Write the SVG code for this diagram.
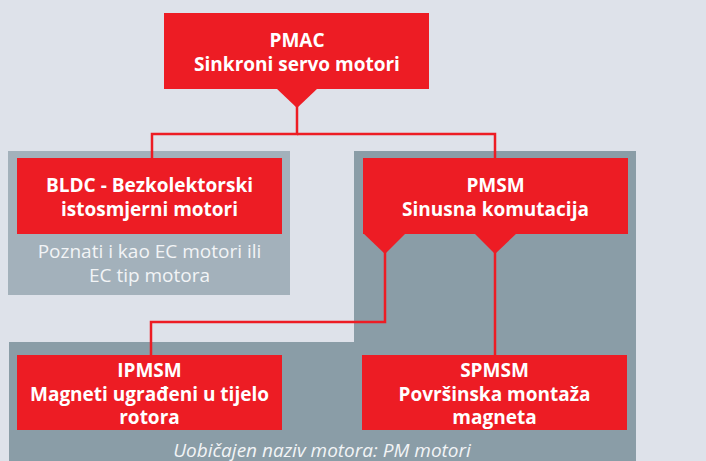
<svg xmlns="http://www.w3.org/2000/svg" width="706" height="461" viewBox="0 0 706 461">
<style>
.box{fill:#ed1c24}
.t{font-family:"Open Sans","Liberation Sans",sans-serif;font-weight:bold;font-size:19px;fill:#ffffff;text-anchor:middle}
.n{font-family:"Open Sans","Liberation Sans",sans-serif;font-size:19px;fill:#f2f4f6;text-anchor:middle}
.c{fill:none;stroke:#ed1c24;stroke-width:2.5}
</style>
<rect width="706" height="461" fill="#dee2ea"/>
<rect x="8" y="151" width="282" height="144" fill="#a3b1bb"/>
<polygon points="354,151 636,151 636,461 9,461 9,342 354,342" fill="#8a9da7"/>
<g id="connectors">
<polyline class="c" points="297,100 297,134 152,134 152,158"/>
<polyline class="c" points="297,134 495,134 495,158"/>
<polyline class="c" points="385,250 385,322 151,322 151,355"/>
<polyline class="c" points="495,250 495,355"/>
</g>
<g id="pmac">
<rect class="box" x="164" y="13" width="265" height="76"/>
<polygon class="box" points="276,88 318,88 297,108"/>
<text class="t" x="297" y="47">PMAC</text>
<text class="t" x="297" y="71">Sinkroni servo motori</text>
</g>
<g id="bldc">
<rect class="box" x="17" y="158" width="265" height="76"/>
<text class="t" x="149.5" y="192">BLDC - Bezkolektorski</text>
<text class="t" x="149.5" y="216">istosmjerni motori</text>
<text class="n" x="149.5" y="258">Poznati i kao EC motori ili</text>
<text class="n" x="149.5" y="282">EC tip motora</text>
</g>
<g id="pmsm">
<rect class="box" x="363" y="158" width="265" height="76"/>
<polygon class="box" points="363,233 406,233 385,254"/>
<polygon class="box" points="474,233 517,233 495,254"/>
<text class="t" x="495.5" y="192">PMSM</text>
<text class="t" x="495.5" y="216">Sinusna komutacija</text>
</g>
<g id="ipmsm">
<rect class="box" x="17" y="355" width="265" height="75"/>
<text class="t" x="149.5" y="377">IPMSM</text>
<text class="t" x="149.5" y="401">Magneti ugrađeni u tijelo</text>
<text class="t" x="149.5" y="424">rotora</text>
</g>
<g id="spmsm">
<rect class="box" x="362" y="355" width="265" height="75"/>
<text class="t" x="494.5" y="377">SPMSM</text>
<text class="t" x="494.5" y="401">Površinska montaža</text>
<text class="t" x="494.5" y="424">magneta</text>
</g>
<text class="n" x="322" y="457" font-style="italic">Uobičajen naziv motora: PM motori</text>
</svg>
